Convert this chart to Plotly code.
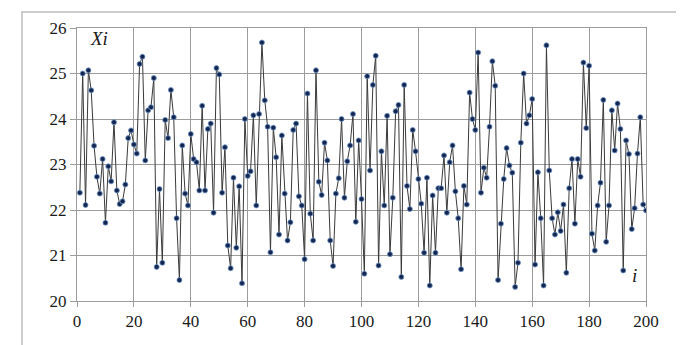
import plotly.graph_objects as go

i_values = list(range(1, 201))
x_values = [
    22.38, 25.00, 22.11, 25.07, 24.63, 23.41, 22.73, 22.36, 23.12, 21.72,
    22.96, 22.63, 23.93, 22.43, 22.13, 22.19, 22.56, 23.58, 23.75, 23.44,
    23.24, 25.21, 25.37, 23.09, 24.19, 24.26, 24.90, 20.75, 22.46, 20.84,
    23.98, 23.58, 24.64, 24.04, 21.82, 20.46, 23.42, 22.36, 22.10, 23.67,
    23.12, 23.05, 22.43, 24.29, 22.43, 23.78, 23.90, 21.94, 25.12, 24.98,
    22.38, 23.38, 21.22, 20.72, 22.71, 21.17, 22.52, 20.39, 24.00, 22.75,
    22.85, 24.08, 22.10, 24.11, 25.68, 24.41, 23.83, 21.07, 23.81, 23.16,
    21.46, 23.64, 22.36, 21.33, 21.73, 23.76, 23.90, 22.30, 22.10, 20.92,
    24.56, 21.92, 21.33, 25.07, 22.62, 22.33, 23.48, 23.09, 21.33, 20.77,
    22.36, 22.70, 24.00, 22.27, 23.07, 23.42, 24.11, 21.74, 23.53, 22.24,
    20.60, 24.94, 22.87, 24.75, 25.39, 20.78, 23.29, 22.10, 24.07, 21.03,
    22.27, 24.17, 24.31, 20.53, 24.75, 22.53, 22.02, 23.76, 23.29, 22.68,
    22.14, 21.06, 22.71, 20.34, 22.32, 21.06, 22.48, 22.48, 23.20, 21.94,
    23.05, 23.42, 22.41, 21.82, 20.70, 22.53, 22.12, 24.58, 24.00, 23.76,
    25.46, 22.38, 22.93, 22.71, 23.83, 25.27, 24.73, 20.46, 21.70, 22.68,
    23.36, 22.98, 22.82, 20.31, 20.84, 23.48, 25.00, 23.90, 24.08, 24.44,
    20.80, 22.83, 21.82, 20.34, 25.62, 22.87, 21.82, 21.46, 21.95, 21.54,
    22.12, 20.62, 22.48, 23.12, 21.70, 23.12, 22.73, 25.24, 23.80, 25.17,
    21.48, 21.11, 22.10, 22.60, 24.42, 21.30, 22.10, 24.19, 23.31, 24.34,
    23.78, 20.67, 23.53, 23.23, 21.58, 22.04, 23.24, 24.04, 22.12, 21.99,
]
x_ticks = [0, 20, 40, 60, 80, 100, 120, 140, 160, 180, 200]
y_ticks = [20, 21, 22, 23, 24, 25, 26]

FONT = "'Liberation Serif', 'DejaVu Serif', serif"
GRID = "#9c9c9c"

fig = go.Figure()
fig.add_trace(go.Scatter(
    x=i_values, y=x_values, mode="lines+markers",
    line=dict(color="#3a3a3a", width=1),
    marker=dict(size=5, color="#14254f", line=dict(color="#6f95c8", width=0.8)),
    showlegend=False, hoverinfo="x+y",
))

fig.update_layout(
    template="none",
    width=684, height=345,
    margin=dict(l=69, r=46, t=20, b=52),
    paper_bgcolor="white", plot_bgcolor="white",
    font=dict(family=FONT, size=17, color="#1a1a1a"),
)
fig.update_xaxes(range=[0, 200], tickvals=x_ticks, ticktext=[str(v) for v in x_ticks],
                 showgrid=True, gridcolor=GRID, gridwidth=1,
                 zeroline=False, showline=True, linecolor=GRID, linewidth=1, mirror=True,
                 ticks="outside", ticklen=5, tickcolor=GRID, tickwidth=1,
                 tickfont=dict(family=FONT, size=17, color="#1a1a1a"))
fig.update_yaxes(range=[20, 26], tickvals=y_ticks, ticktext=[str(v) for v in y_ticks],
                 showgrid=True, gridcolor=GRID, gridwidth=1,
                 zeroline=False, showline=True, linecolor=GRID, linewidth=1, mirror=True,
                 ticks="outside", ticklen=6, tickcolor=GRID, tickwidth=1,
                 tickfont=dict(family=FONT, size=17, color="#1a1a1a"))
fig.add_shape(type="rect", xref="paper", yref="paper",
              x0=(14 - 69) / 569, x1=(673 - 69) / 569,
              y0=(293 - 343) / 273, y1=(293 - 4) / 273,
              line=dict(color="#bdbdbd", width=1.5), fillcolor="rgba(0,0,0,0)", layer="below")
fig.add_annotation(text="<i>Xi</i>", xref="x", yref="y", x=4, y=25.78, xanchor="left",
                   yanchor="middle", showarrow=False,
                   font=dict(family=FONT, size=19, color="#1a1a1a"))
fig.add_annotation(text="<i>i</i>", xref="x", yref="y", x=196, y=20.55, xanchor="center",
                   yanchor="middle", showarrow=False,
                   font=dict(family=FONT, size=19, color="#1a1a1a"))

fig.write_html("out.html")
